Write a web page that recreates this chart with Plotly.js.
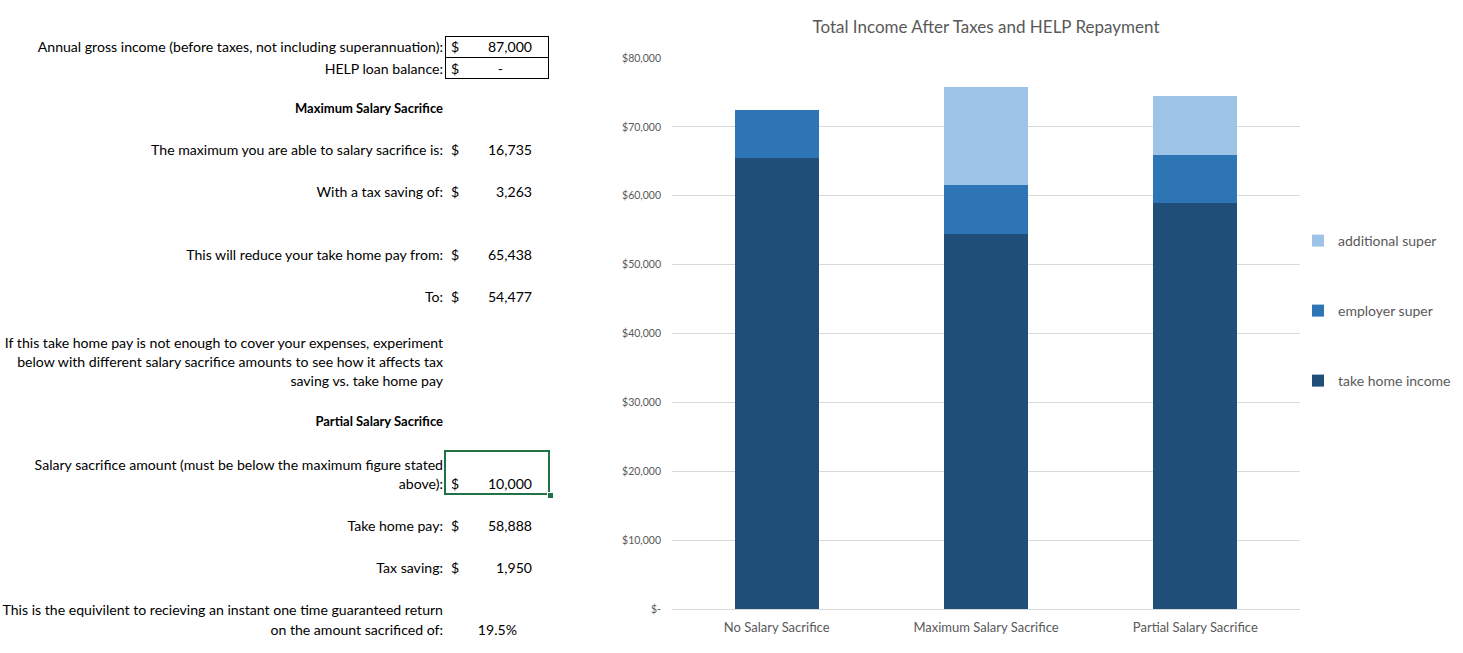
<!DOCTYPE html>
<html>
<head>
<meta charset="utf-8">
<script src="https://cdn.plot.ly/plotly-3.0.1.min.js"></script>
<style>
  html, body { margin: 0; padding: 0; background: #fff; }
  #wrap { position: relative; width: 1463px; height: 653px; overflow: hidden; font-family: Lato, "Noto Sans", sans-serif; }
  #chart { position: absolute; left: 0; top: 0; width: 1463px; height: 653px; }
  .t { position: absolute; font-size: 14.1px; color: #000; white-space: nowrap; line-height: 19px; }
  .r { text-align: right; }
  .b { font-weight: bold; font-size: 13px; }
  .box { position: absolute; border: 1px solid #000; box-sizing: border-box; }
</style>
</head>
<body>
<div id="wrap">
  <div id="chart"></div>
  <div id="sheet"></div>
</div>
<script>
// ---- chart data ----
const categories = ["No Salary Sacrifice", "Maximum Salary Sacrifice", "Partial Salary Sacrifice"];
const takeHomeIncome = [65438, 54477, 58888];
const employerSuper = [7025, 7025, 7025];
const additionalSuper = [0, 14225, 8500];
const seriesNames = ["take home income", "employer super", "additional super"];
const yTickValues = [0, 10000, 20000, 30000, 40000, 50000, 60000, 70000, 80000];
const yTickLabels = ["$-", "$10,000", "$20,000", "$30,000", "$40,000", "$50,000", "$60,000", "$70,000", "$80,000"];
const chartTitle = "Total Income After Taxes and HELP Repayment";

// ---- spreadsheet text ----
const sheetRows = [
  {label: "Annual gross income (before taxes, not including superannuation):", value: "87,000", dollar: true, y: 47},
  {label: "HELP loan balance:", value: "-", dollar: true, y: 69, valueRight: 503},
  {label: "Maximum Salary Sacrifice", bold: true, y: 109},
  {label: "The maximum you are able to salary sacrifice is:", value: "16,735", dollar: true, y: 150},
  {label: "With a tax saving of:", value: "3,263", dollar: true, y: 192},
  {label: "This will reduce your take home pay from:", value: "65,438", dollar: true, y: 255},
  {label: "To:", value: "54,477", dollar: true, y: 297},
  {label: "If this take home pay is not enough to cover your expenses, experiment", y: 343},
  {label: "below with different salary sacrifice amounts to see how it affects tax", y: 362},
  {label: "saving vs. take home pay", y: 381},
  {label: "Partial Salary Sacrifice", bold: true, y: 422},
  {label: "Salary sacrifice amount (must be below the maximum figure stated", y: 465},
  {label: "above):", value: "10,000", dollar: true, y: 484},
  {label: "Take home pay:", value: "58,888", dollar: true, y: 526},
  {label: "Tax saving:", value: "1,950", dollar: true, y: 568},
  {label: "This is the equivilent to recieving an instant one time guaranteed return", y: 610},
  {label: "on the amount sacrificed of:", value: "19.5%", dollar: false, y: 630, valueRight: 517}
];

const sheet = document.getElementById("sheet");
function addText(txt, cls, style) {
  const d = document.createElement("div");
  d.className = "t " + cls;
  d.textContent = txt;
  Object.assign(d.style, style);
  sheet.appendChild(d);
}
sheetRows.forEach(r => {
  const top = (r.y - 10) + "px";
  addText(r.label, "r" + (r.bold ? " b" : ""), {right: (1463 - 443) + "px", top: top});
  if (r.dollar) addText("$", "", {left: "451px", top: top});
  if (r.value) addText(r.value, "r", {right: (1463 - (r.valueRight || 532)) + "px", top: top});
});
// cell borders
function addBox(l, t, w, h, color, bw) {
  const d = document.createElement("div");
  d.className = "box";
  Object.assign(d.style, {left: l + "px", top: t + "px", width: w + "px", height: h + "px", borderColor: color, borderWidth: bw + "px"});
  sheet.appendChild(d);
}
addBox(445, 36, 104, 22, "#000", 1);
addBox(445, 57, 104, 22, "#000", 1);
addBox(444, 450, 106, 45, "#217346", 2);
const handle = document.createElement("div");
Object.assign(handle.style, {position: "absolute", left: "547px", top: "492px", width: "5px", height: "5px", background: "#217346", border: "1px solid #fff"});
sheet.appendChild(handle);

// ---- plotly chart ----
const colors = ["#1F4E79", "#2E75B6", "#9DC3E6"];
const legendIds = ["legend3", "legend2", "legend"];
const seriesValues = [takeHomeIncome, employerSuper, additionalSuper];
const traces = seriesValues.map((vals, i) => ({
  type: "bar",
  name: seriesNames[i],
  x: categories,
  y: vals,
  marker: {color: colors[i]},
  legend: legendIds[i],
  hoverinfo: "skip"
}));

function legendAt(yPx) {
  return {
    x: (1298 - 672) / 628, xanchor: "left",
    y: (609 - yPx) / 551, yanchor: "middle",
    font: {size: 14, color: "#595959"},
    itemwidth: 30,
    bgcolor: "rgba(0,0,0,0)"
  };
}

const layout = {
  width: 1463, height: 653,
  barmode: "stack",
  bargap: 0.6,
  margin: {l: 672, r: 163, t: 58, b: 44, pad: 0, autoexpand: false},
  paper_bgcolor: "rgba(0,0,0,0)",
  plot_bgcolor: "#fff",
  font: {family: "Lato, 'Noto Sans', sans-serif", color: "#595959"},
  title: {
    text: chartTitle,
    font: {size: 17, color: "#595959", family: "Lato, 'Noto Sans', sans-serif"},
    x: 0.5, xref: "paper", xanchor: "center",
    y: 1 - 27 / 653, yref: "container", yanchor: "middle"
  },
  xaxis: {
    type: "category",
    showgrid: false,
    showline: true, linecolor: "#d9d9d9", linewidth: 1,
    ticks: "",
    ticklabelstandoff: 6,
    tickfont: {size: 13, color: "#595959"},
    fixedrange: true
  },
  yaxis: {
    range: [0, 80000],
    tickvals: yTickValues,
    ticktext: yTickLabels,
    showgrid: true, gridcolor: "#d9d9d9", gridwidth: 1,
    zeroline: false,
    showline: false,
    ticks: "",
    ticklabelstandoff: 10,
    tickfont: {size: 10.5, color: "#595959"},
    fixedrange: true
  },
  showlegend: true,
  legend: legendAt(241),
  legend2: legendAt(311),
  legend3: legendAt(381)
};

Plotly.newPlot("chart", traces, layout, {displayModeBar: false, staticPlot: true});
</script>
</body>
</html>
